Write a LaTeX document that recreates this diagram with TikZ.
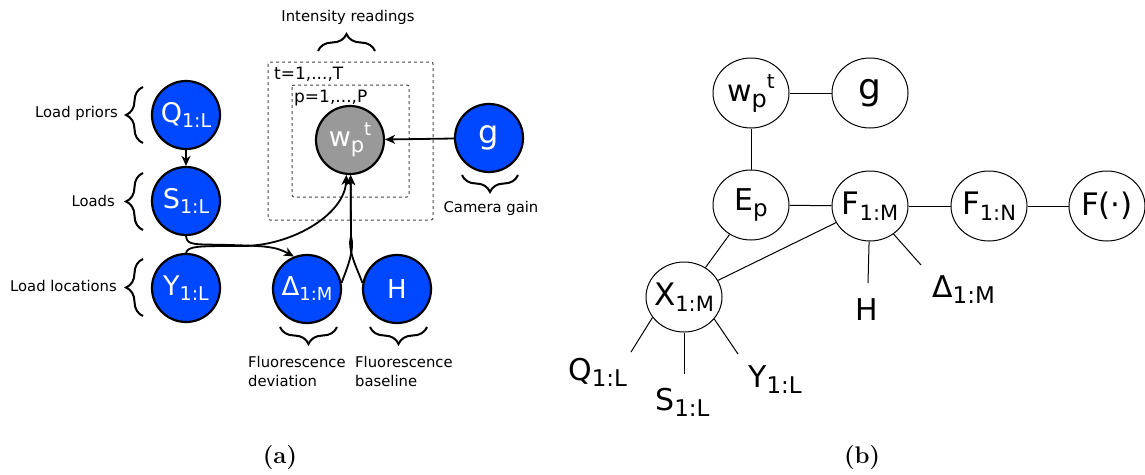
\documentclass[tikz,border=0pt]{standalone}
\usepackage{fontspec}
\newfontfamily\dv{DejaVu Sans}
\usetikzlibrary{arrows.meta,decorations.pathreplacing,shapes.geometric}
\definecolor{nodeblue}{RGB}{0,72,255}
\definecolor{obsgray}{RGB}{153,153,153}
\definecolor{plategray}{RGB}{70,70,70}
\newcommand\fs[1]{\fontsize{#1}{#1}\selectfont}
% lowered index: #1 drop in pt, #2 font size, #3 text
\newcommand\lowidx[3]{\raisebox{-#1pt}{\fs{#2}#3}}
\begin{document}
\begin{tikzpicture}[x=1pt,y=-1pt,
  lnode/.style={circle, draw=black, line width=2.2pt, fill=nodeblue, text=white,
    minimum size=68pt, inner sep=0pt, font=\dv},
  onode/.style={lnode, fill=obsgray},
  rnode/.style={ellipse, draw=black, line width=1pt, minimum width=76pt,
    minimum height=70pt, inner sep=0pt, font=\dv},
  lbl/.style={font=\dv\fs{14.8}, inner sep=0pt},
  freelbl/.style={font=\dv, inner sep=0pt},
  plate/.style={draw=plategray, line width=1pt, dash pattern=on 3pt off 3pt, rounded corners=2pt},
  conn/.style={line width=1.8pt, -{Stealth[length=10pt,width=9pt,inset=3pt]}},
  link/.style={line width=1pt},
  brc/.style={decorate, decoration={brace, amplitude=17pt}, line width=2pt},
  capt/.style={font=\fs{24}\bfseries, inner sep=0pt},
]
\useasboundingbox (0,0) rectangle (1145,474);

% ---------- (a) generative model ----------
\draw[plate] (268,62) rectangle (433,220);
\draw[plate] (292,85) rectangle (409,197);
\node[lbl, anchor=base west, font=\dv\fs{17}] (tplate) at (274,79) {t=1,...,T};
\node[lbl, anchor=base west, font=\dv\fs{17}] (pplate) at (294,102) {p=1,...,P};

\node[lnode] (Q) at (186,115) {\makebox[0pt]{{\fs{27}Q}\lowidx{5}{19}{1:L}}};
\node[lnode] (S) at (186,201) {\makebox[0pt]{{\fs{27}S}\lowidx{5}{19}{1:L}}};
\node[lnode] (Y) at (186,288) {\makebox[0pt]{{\fs{27}Y}\lowidx{5}{19}{1:L}}};
\node[lnode] (D) at (307,289) {\makebox[0pt]{{\fs{26}Δ}\lowidx{5}{18}{1:M}}};
\node[lnode] (H) at (397,289) {\makebox[0pt]{\fs{26}H}};
\node[onode] (w) at (350,140) {\makebox[0pt]{{\fs{27}w}\lowidx{6}{21}{p}\raisebox{11pt}{\fs{18}t}}};
\node[lnode] (g) at (489,138) {\makebox[0pt]{\fs{32}g}};

\draw[conn] (Q) -- (S);
\draw[conn] (g) -- (w);
\draw[conn] (S.south) .. controls (187,246) and (195,244) .. (230,245)
  .. controls (262,246) and (275,246) .. (D.112);
\draw[conn] (Y.north) .. controls (188,246) and (198,246) .. (240,246)
  .. controls (290,247) and (345,215) .. (w.-96);
\draw[conn] (D.10) .. controls (347,268) and (355,250) .. (351,236) -- (w.-89);
\draw[conn] (H.170) .. controls (357,268) and (347,250) .. (351,236) -- (w.-89);

% side labels with braces
\draw[brc] (143,143) -- (143,87);
\draw[brc] (143,230) -- (143,173);
\draw[brc] (143,316) -- (143,259);
\node[lbl, anchor=base east] (lp) at (118,117) {Load priors};
\node[lbl, anchor=base east] (ld) at (115,206) {Loads};
\node[lbl, anchor=base east] (ll) at (117,291) {Load locations};

\draw[brc] (318,51) -- (375,51);
\node[lbl, anchor=base] (ir) at (348,21) {Intensity readings};

\draw[brc] (337,327) -- (280,327);
\draw[brc] (427,327) -- (370,327);
\draw[brc] (518,175) -- (462,175);
\node[lbl, anchor=base west, align=left] (fd) at (248,386) {Fluorescence\\[4.2pt]deviation};
\node[lbl, anchor=base west, align=left] (fb) at (355,386) {Fluorescence\\[4.2pt]baseline};
\node[lbl, anchor=base] (cg) at (491,212) {Camera gain};

\node[capt] (capa) at (280,458) {(a)};

% ---------- (b) factor structure ----------
\node[rnode] (rw) at (751,93) {\makebox[0pt]{{\fs{30}w}\lowidx{6}{24}{p}\raisebox{13pt}{\fs{20}t}}};
\node[rnode] (rg) at (870,93) {\makebox[0pt]{\fs{36}g}};
\node[rnode] (rE) at (751,205) {\makebox[0pt]{{\fs{30}E}\lowidx{6}{23}{p}}};
\node[rnode] (rF) at (870,206) {\makebox[0pt]{{\fs{31}F}\lowidx{6}{21}{1:M}}};
\node[rnode] (rFN) at (989,206) {\makebox[0pt]{{\fs{31}F}\lowidx{6}{21}{1:N}}};
\node[rnode] (rFd) at (1107,206) {\makebox[0pt]{\fs{31}F(·)}};
\node[rnode] (rX) at (684,297) {\makebox[0pt]{{\fs{31}X}\lowidx{6}{21}{1:M}}};

\coordinate (hEnd) at (868,283);
\coordinate (dEnd) at (921,265);
\coordinate (qEnd) at (631,352);
\coordinate (sEnd) at (684,374);
\coordinate (yEnd) at (738,354);

\draw[link] (rw) -- (rg);
\draw[link] (rw) -- (rE);
\draw[link] (rE) -- (rF);
\draw[link] (rF) -- (rFN);
\draw[link] (rFN) -- (rFd);
\draw[link] (rE) -- (rX);
\draw[link] (rX) -- (rF);
\draw[link] (rF) -- (hEnd);
\draw[link] (rF.-50) -- (dEnd);
\draw[link] (rX.213) -- (qEnd);
\draw[link] (rX.south) -- (sEnd);
\draw[link] (rX.-36) -- (yEnd);

\node[freelbl, anchor=base] (lH) at (867,320) {\fs{30}H};
\node[freelbl, anchor=base west] (lD) at (932,297) {{\fs{30}Δ}\lowidx{6}{23}{1:M}};
\node[freelbl, anchor=base west] (lQ) at (568,380) {{\fs{30}Q}\lowidx{6}{23}{1:L}};
\node[freelbl, anchor=base west] (lS) at (655,410) {{\fs{30}S}\lowidx{6}{23}{1:L}};
\node[freelbl, anchor=base west] (lY) at (748,387) {{\fs{30}Y}\lowidx{6}{23}{1:L}};

\node[capt] (capb) at (862,458) {(b)};
\end{tikzpicture}
\end{document}
